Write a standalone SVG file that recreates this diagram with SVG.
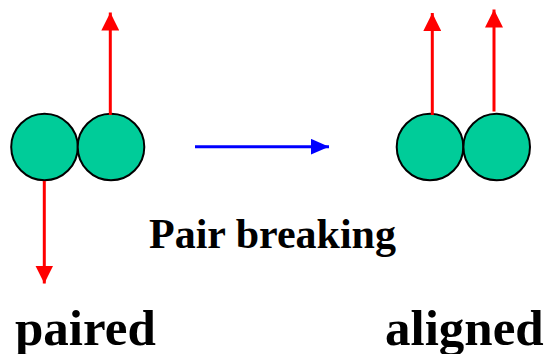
<svg xmlns="http://www.w3.org/2000/svg" width="552" height="354" viewBox="0 0 552 354">
<style>
.ball{fill:#00CC99;stroke:#000;stroke-width:2}
.red{stroke:#FF0000;stroke-width:3;fill:none}
.blue{stroke:#0000FF;stroke-width:3;fill:none}
.t{font-family:"Liberation Serif","Times New Roman",serif;font-weight:bold;fill:#000}
</style>
<defs>
<marker id="ar" markerUnits="userSpaceOnUse" markerWidth="18" markerHeight="18" refX="16" refY="8" orient="auto" viewBox="0 0 16 16">
<path d="M0,0 L16,8 L0,16 Z" fill="#FF0000"/>
</marker>
<marker id="ab" markerUnits="userSpaceOnUse" markerWidth="18" markerHeight="16" refX="16" refY="7" orient="auto" viewBox="0 0 16 14">
<path d="M0,0 L16,7 L0,14 Z" fill="#0000FF"/>
</marker>
</defs>
<g id="paired-pair">
<circle class="ball" cx="44.5" cy="147" r="33.3"/>
<circle class="ball" cx="111" cy="147" r="33.3"/>
</g>
<g id="aligned-pair">
<circle class="ball" cx="430" cy="147" r="33.3"/>
<circle class="ball" cx="496.7" cy="147" r="33.3"/>
</g>
<g id="connectors">
<line class="red" x1="110.3" y1="115" x2="110.3" y2="12.5" marker-end="url(#ar)"/>
<line class="red" x1="44.3" y1="181" x2="44.3" y2="283.5" marker-end="url(#ar)"/>
<line class="red" x1="432.3" y1="115" x2="432.3" y2="13" marker-end="url(#ar)"/>
<line class="red" x1="494" y1="111.5" x2="494" y2="9.5" marker-end="url(#ar)"/>
<line class="blue" x1="195" y1="146.7" x2="329" y2="146.7" marker-end="url(#ab)"/>
</g>
<g id="labels">
<text class="t" x="149" y="248" font-size="42">Pair breaking</text>
<text class="t" x="15" y="345" font-size="51">paired</text>
<text class="t" x="385" y="345" font-size="51">aligned</text>
</g>
</svg>
